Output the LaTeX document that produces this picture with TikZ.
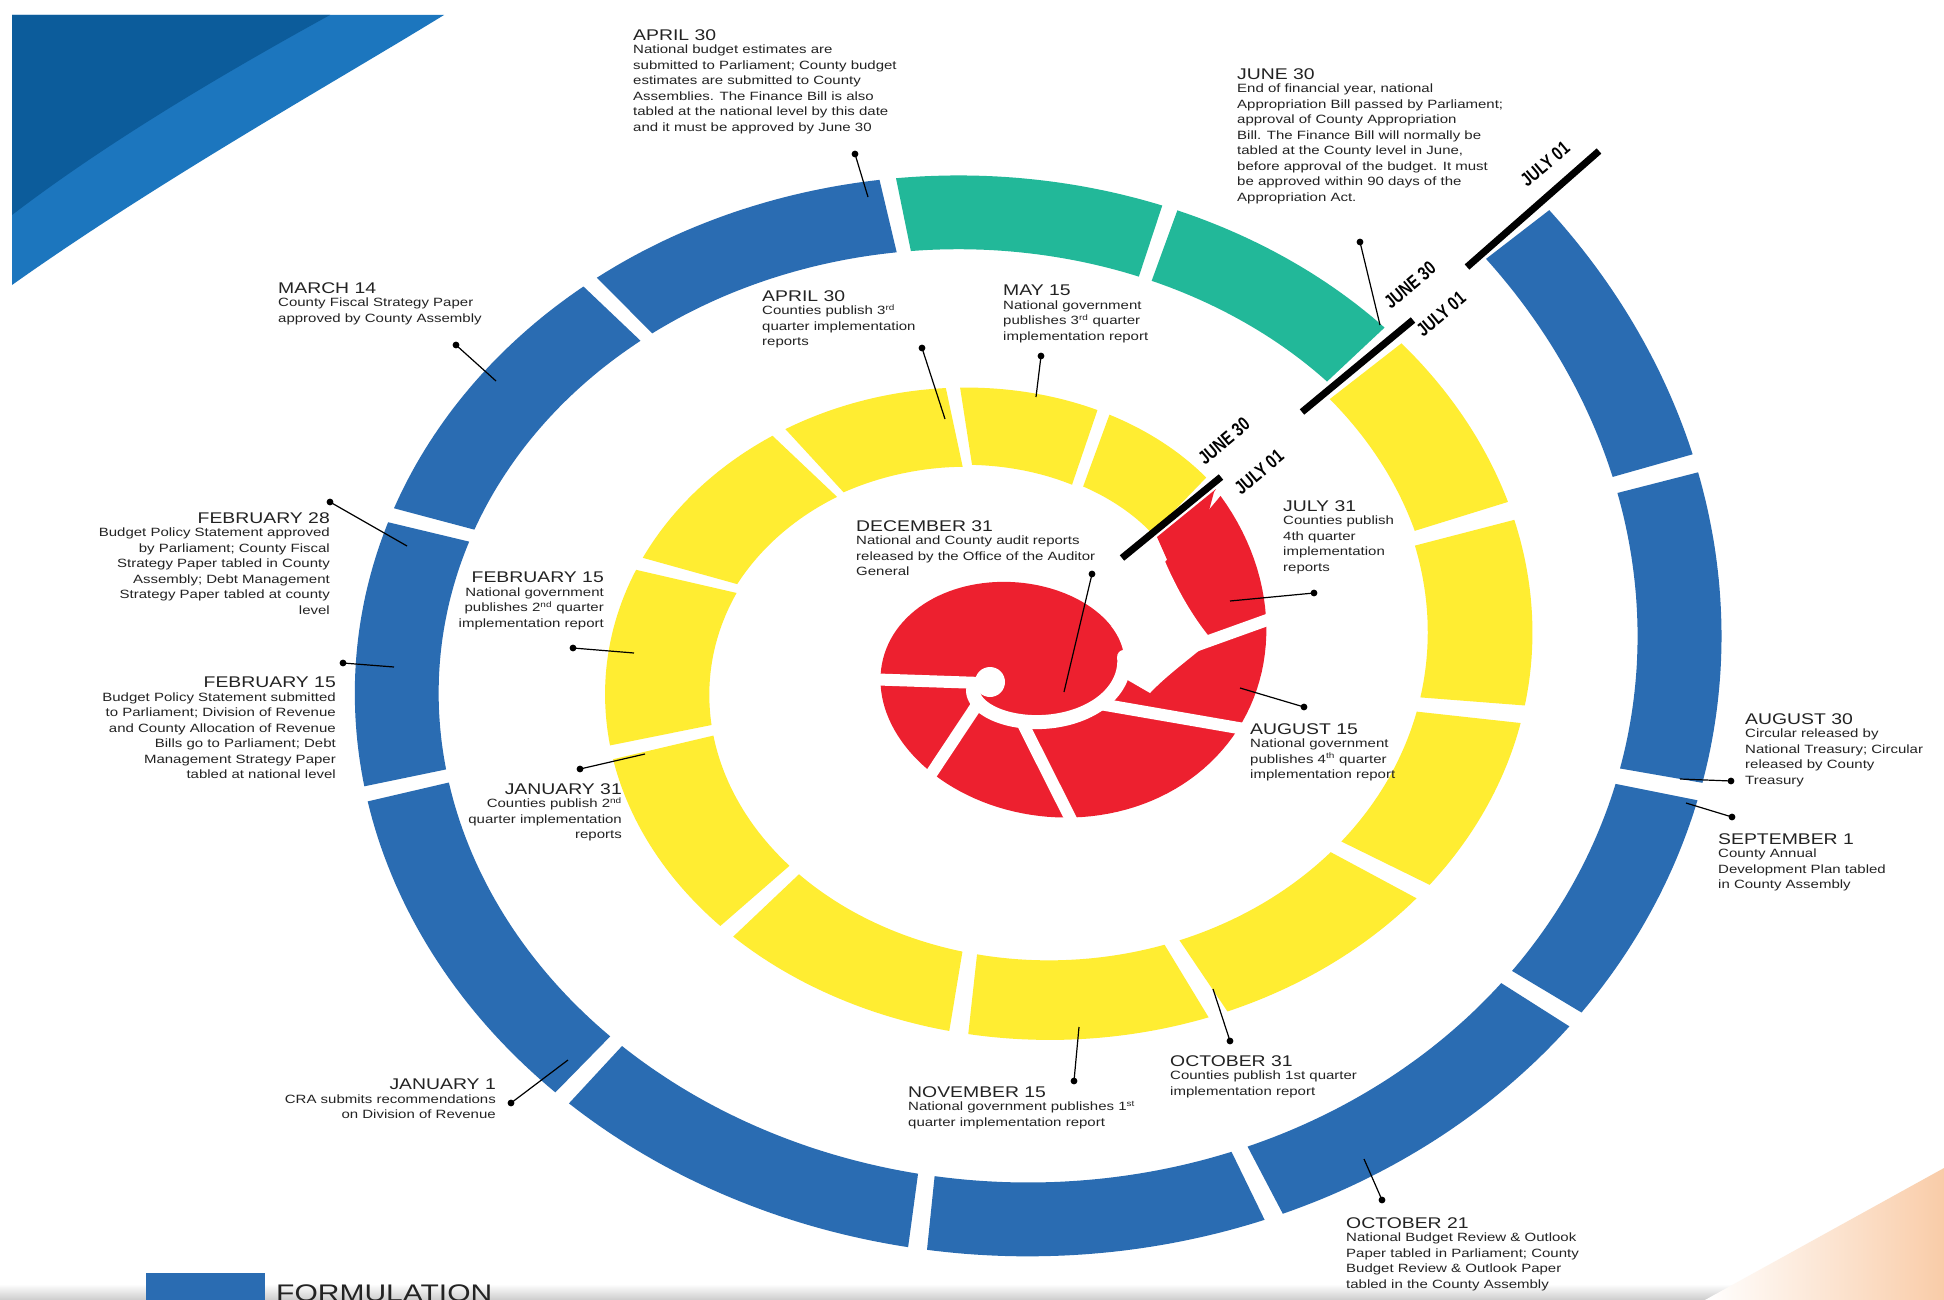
\documentclass[tikz,border=0pt]{standalone}
\usepackage{fontspec}
\setmainfont{Liberation Sans}
\newfontfamily\lbl[FakeStretch=1.25]{Liberation Sans}
\newfontfamily\mrk[FakeStretch=0.78]{Liberation Sans}
\definecolor{ringblue}{RGB}{42,108,178}
\definecolor{ringgreen}{RGB}{34,184,153}
\definecolor{ringyellow}{RGB}{255,237,50}
\definecolor{ringred}{RGB}{237,32,47}
\definecolor{txt}{RGB}{35,35,35}
\definecolor{swdark}{RGB}{12,92,155}
\definecolor{swlight}{RGB}{28,118,190}
\definecolor{peach}{RGB}{249,204,168}
\newcommand\evtitle[1]{{\fontsize{15.5}{17}\selectfont #1}\\[-2pt]}
\newcommand\ringseg[5]{\fill[#5] plot[domain=#1:#2,samples=36] ({mx(\x,0)},{my(\x,0)}) -- plot[domain=#2:#1,samples=36] ({mx(\x,#3)},{my(\x,#4)}) -- cycle;}
\newcommand\redcut[1]{\draw[white,line width=12pt] ({rx(#1-360,0)},{ry(#1-360,0)}) -- ({rx(#1,-25)},{ry(#1,-25)});}
\tikzset{
  note/.style={inner sep=0pt, align=left, anchor=north west, text=txt, font=\lbl\fontsize{12}{15.5}\selectfont},
  noter/.style={note, align=right, anchor=north east},
  ptr/.style={line width=1.2pt, draw=black},
  yearline/.style={line width=7pt, draw=black},
  yrlbl/.style={inner sep=0pt, text=black, font=\mrk\bfseries\fontsize{19}{19}\selectfont},
}
\begin{document}
\begin{tikzpicture}[x=1pt,y=-1pt,
  declare function={
    tt(\q)=(44-\q)/360;
    ff(\q)=1723-189*(tt(\q)-0.11)-39*(tt(\q)-0.11)*(tt(\q)-1.11);
    gg(\q)=353+251*(tt(\q)-0.61)+12.5*(tt(\q)-0.61)*(tt(\q)-1.61);
    hh(\q)=1258-217*(tt(\q)-0.36)-3*(tt(\q)-0.36)*(tt(\q)-1.36);
    kk(\q)=174+213*(tt(\q)-0.86)-8.5*(tt(\q)-0.86)*(tt(\q)-1.86);
    mx(\q,\w)=(ff(\q)+gg(\q))/2+((ff(\q)-gg(\q))/2-\w)*cos(\q);
    my(\q,\w)=(hh(\q)+kk(\q))/2-((hh(\q)-kk(\q))/2-\w)*sin(\q);
    fr(\q)=1267-145*(tt(\q)-2.11)-49.3*(tt(\q)-2.11)*(tt(\q)-3.11);
    gr(\q)=880+96*(tt(\q)-2.61);
    hr(\q)=818-97.6*(tt(\q)-2.36);
    kr(\q)=420+189.5*(tt(\q)-2)-47.5*(tt(\q)-2)*(tt(\q)-2.86);
    rx(\q,\w)=(fr(\q)+gr(\q))/2+((fr(\q)-gr(\q))/2-\w)*cos(\q);
    ry(\q,\w)=(hr(\q)+kr(\q))/2-((hr(\q)-kr(\q))/2-\w)*sin(\q);
  }]
\useasboundingbox (0,0) rectangle (1944,1300);
\clip (0,0) rectangle (1944,1300);
\fill[white] (0,0) rectangle (1944,1300);

% corner decorations
\fill[swlight] (12,15) -- (444,15) .. controls (330,85) and (160,180) .. (12,285) -- cycle;
\fill[swdark] (12,15) -- (330,15) .. controls (230,70) and (110,140) .. (12,215) -- cycle;
\shade[top color=white, bottom color=black!20] (0,1284) rectangle (1944,1300);
\shade[left color=white, right color=peach] (1705,1300) -- (1944,1168) -- (1944,1300) -- cycle;

% outer ring (blue / green)
\ringseg{41.2}{17.8}{84}{74}{ringblue}
\ringseg{16.2}{-11.2}{84}{74}{ringblue}
\ringseg{-12.8}{-34.2}{84}{74}{ringblue}
\ringseg{-35.8}{-65.2}{84}{74}{ringblue}
\ringseg{-66.8}{-95.2}{84}{74}{ringblue}
\ringseg{-96.8}{-129.2}{84}{74}{ringblue}
\ringseg{-130.8}{-165.2}{84}{74}{ringblue}
\ringseg{-166.8}{-195.2}{84}{74}{ringblue}
\ringseg{-196.8}{-227.2}{84}{74}{ringblue}
\ringseg{-228.8}{-258.2}{84}{74}{ringblue}
\ringseg{-259.8}{-286.2}{84}{74}{ringgreen}
\ringseg{-287.8}{-313.2}{84}{74}{ringgreen}

% middle ring (yellow)
\ringseg{-315.8}{-338.8}{100}{80}{ringyellow}
\ringseg{-341.2}{-365.8}{105}{80}{ringyellow}
\ringseg{-368.2}{-392.8}{105}{80}{ringyellow}
\ringseg{-395.2}{-422.8}{105}{80}{ringyellow}
\ringseg{-425.2}{-454.8}{105}{80}{ringyellow}
\ringseg{-457.2}{-488.8}{105}{80}{ringyellow}
\ringseg{-491.2}{-522.8}{105}{80}{ringyellow}
\ringseg{-525.2}{-556.8}{105}{80}{ringyellow}
\ringseg{-559.2}{-589.8}{100}{80}{ringyellow}
\ringseg{-592.2}{-619.8}{95}{80}{ringyellow}
\ringseg{-622.2}{-646.8}{88}{78}{ringyellow}
\ringseg{-649.2}{-672.5}{80}{76}{ringyellow}

% inner red swirl
\fill[ringred] plot[domain=-679:-1036,samples=140] ({rx(\x,0)},{ry(\x,0)}) -- cycle;
\fill[ringred] (1216,489) -- (1157,537) -- (1185,600) -- (1214,492) -- cycle;
\fill[white] (1120,564) -- (1157,541) .. controls (1168,572) and (1188,612) .. (1212,640) .. controls (1188,660) and (1166,676) .. (1150,693) -- plot[domain=-1076:-1036,samples=20] ({rx(\x,0)},{ry(\x,0)}) -- cycle;
\draw[white,line width=14pt,line cap=round] plot[domain=-1060:-1250,samples=80] ({rx(\x,0)},{ry(\x,0)});
\redcut{-712}
\redcut{-743.5}
\redcut{-801}
\redcut{-849}
\redcut{-896}
\fill[white] (990,682) circle (15);

% year boundary lines
\coordinate (yo1) at (1467,267); \coordinate (yo2) at (1599,151);
\coordinate (ym1) at (1302,412); \coordinate (ym2) at (1413,320);
\coordinate (yi1) at (1122,558); \coordinate (yi2) at (1221,477);
\draw[yearline] (yo1) -- (yo2);
\draw[yearline] (ym1) -- (ym2);
\draw[yearline] (yi1) -- (yi2);
\node[yrlbl, rotate=40] (jul1o) at (1545,164) {JULY 01};
\node[yrlbl, rotate=40] (jun30m) at (1410,285) {JUNE 30};
\node[yrlbl, rotate=40] (jul1m) at (1441,314) {JULY 01};
\node[yrlbl, rotate=40] (jun30i) at (1224,441) {JUNE 30};
\node[yrlbl, rotate=40] (jul1i) at (1259,472) {JULY 01};

% annotations
\node[note] (apr30a) at (633,29) {\evtitle{APRIL 30}National budget estimates are\\submitted to Parliament; County budget\\estimates are submitted to County\\Assemblies. The Finance Bill is also\\tabled at the national level by this date\\and it must be approved by June 30};
\node[note] (jun30a) at (1237,68) {\evtitle{JUNE 30}End of financial year, national\\Appropriation Bill passed by Parliament;\\approval of County Appropriation\\Bill. The Finance Bill will normally be\\tabled at the County level in June,\\before approval of the budget. It must\\be approved within 90 days of the\\Appropriation Act.};
\node[note] (mar14) at (278,282) {\evtitle{MARCH 14}County Fiscal Strategy Paper\\approved by County Assembly};
\node[noter] (feb28) at (330,512) {\evtitle{FEBRUARY 28}Budget Policy Statement approved\\by Parliament; County Fiscal\\Strategy Paper tabled in County\\Assembly; Debt Management\\Strategy Paper tabled at county\\level};
\node[noter] (feb15a) at (336,677) {\evtitle{FEBRUARY 15}Budget Policy Statement submitted\\to Parliament; Division of Revenue\\and County Allocation of Revenue\\Bills go to Parliament; Debt\\Management Strategy Paper\\tabled at national level};
\node[noter] (jan1) at (496,1079) {\evtitle{JANUARY 1}CRA submits recommendations\\on Division of Revenue};
\node[note] (nov15) at (908,1086) {\evtitle{NOVEMBER 15}National government publishes 1\textsuperscript{st}\\quarter implementation report};
\node[note] (oct31) at (1170,1055) {\evtitle{OCTOBER 31}Counties publish 1st quarter\\implementation report};
\node[note] (oct21) at (1346,1217) {\evtitle{OCTOBER 21}National Budget Review \& Outlook\\Paper tabled in Parliament; County\\Budget Review \& Outlook Paper\\tabled in the County Assembly};
\node[note] (sep1) at (1718,833) {\evtitle{SEPTEMBER 1}County Annual\\Development Plan tabled\\in County Assembly};
\node[note] (aug30) at (1745,713) {\evtitle{AUGUST 30}Circular released by\\National Treasury; Circular\\released by County\\Treasury};
\node[note] (aug15) at (1250,723) {\evtitle{AUGUST 15}National government\\publishes 4\textsuperscript{th} quarter\\implementation report};
\node[note] (jul31) at (1283,500) {\evtitle{JULY 31}Counties publish\\4th quarter\\implementation\\reports};
\node[note] (dec31) at (856,520) {\evtitle{DECEMBER 31}National and County audit reports\\released by the Office of the Auditor\\General};
\node[note] (may15) at (1003,285) {\evtitle{MAY 15}National government\\publishes 3\textsuperscript{rd} quarter\\implementation report};
\node[note] (apr30b) at (762,290) {\evtitle{APRIL 30}Counties publish 3\textsuperscript{rd}\\quarter implementation\\reports};
\node[noter] (feb15b) at (604,572) {\evtitle{FEBRUARY 15}National government\\publishes 2\textsuperscript{nd} quarter\\implementation report};
\node[noter] (jan31) at (622,783) {\evtitle{JANUARY 31}Counties publish 2\textsuperscript{nd}\\quarter implementation\\reports};

% pointers
\foreach \n/\ax/\ay/\bx/\by in {
  p1/855/154/868/197, p2/1360/242/1380/325, p3/456/345/496/381,
  p4/330/502/407/546, p5/343/663/394/667, p6/511/1103/568/1060,
  p7/1074/1081/1079/1027, p8/1230/1041/1213/989, p9/1382/1200/1364/1159,
  p10/1732/817/1686/803, p11/1731/781/1680/779, p12/1304/707/1240/688,
  p13/1314/593/1230/601, p14/1092/574/1064/692, p15/1041/356/1036/397,
  p16/922/348/945/419, p17/573/648/634/653, p18/580/769/645/754}{
  \coordinate (\n a) at (\ax,\ay);
  \coordinate (\n b) at (\bx,\by);
  \draw[ptr] (\n a) -- (\n b);
  \fill (\n a) circle (3.4);
}

% legend
\node[fill=ringblue, minimum width=119pt, minimum height=40pt, anchor=north west, inner sep=0pt] (legbox) at (146,1273) {};
\node[anchor=north west, inner sep=0pt, text=txt, font=\lbl\fontsize{24}{24}\selectfont] (legtxt) at (276,1285) {FORMULATION};
\end{tikzpicture}
\end{document}
